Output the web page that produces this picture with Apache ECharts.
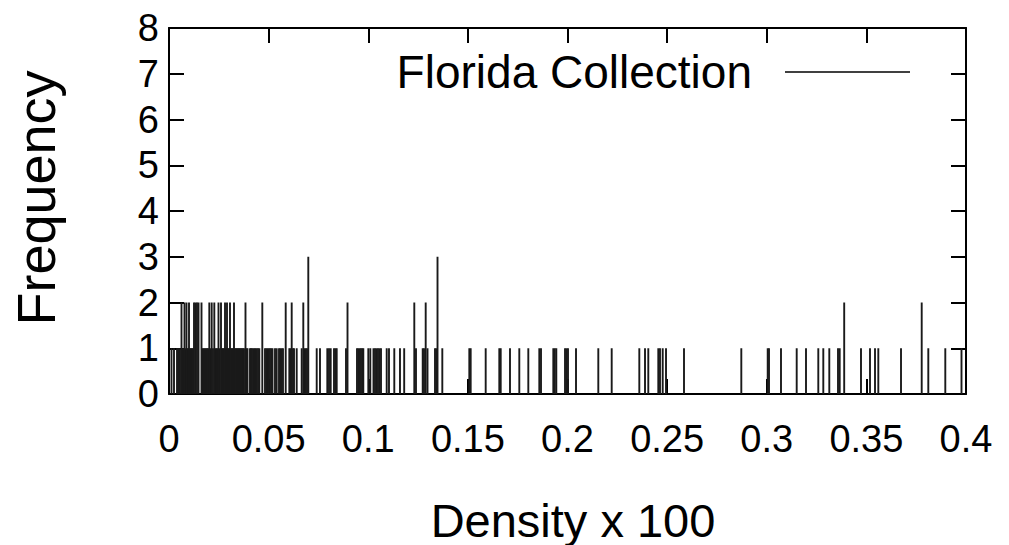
<!DOCTYPE html>
<html>
<head>
<meta charset="utf-8">
<script src="https://cdn.jsdelivr.net/npm/echarts@6/dist/echarts.min.js"></script>
<style>
html,body{margin:0;padding:0;background:#fff;}
#chart{width:1009px;height:545px;}
</style>
</head>
<body>
<div id="chart"></div>
<script>
// ---- data ----
const seriesName = 'Florida Collection';
const xTitle = 'Density x 100';
const yTitle = 'Frequency';
const xTickLabels = ['0', '0.05', '0.1', '0.15', '0.2', '0.25', '0.3', '0.35', '0.4'];
const yTickLabels = ['0', '1', '2', '3', '4', '5', '6', '7', '8'];

// density values that occur once
const freq1Densities = [
  0.00125,0.00251,0.00402,0.00452,0.00502,0.00552,0.00678,0.00728,0.00828,0.00928,0.00964,
  0.01054,0.01104,0.01154,0.01205,0.01681,0.01732,0.01782,0.01832,0.01882,0.01932,0.01972,
  0.02083,0.02208,0.02334,0.02384,0.02434,0.02545,0.0266,0.0271,0.0276,0.02861,0.02961,
  0.03011,0.03112,0.03162,0.03212,0.03312,0.03363,0.03413,0.03463,0.03513,0.03563,0.03614,
  0.03664,0.03714,0.03764,0.0389,0.0394,
  0.04065,0.04115,0.04166,0.04231,0.04291,0.04341,0.04402,0.04467,0.04532,0.04818,0.04883,
  0.04944,0.05004,0.05069,0.05134,0.05194,0.0532,0.05405,0.05521,0.05586,0.05656,0.05721,
  0.06038,0.06098,0.06223,0.06274,0.06409,0.0666,0.068,0.06861,0.06926,0.07413,0.07578,
  0.07945,0.0803,0.08115,0.08281,0.08356,0.08417,0.08883,0.09435,0.095,0.09571,0.09636,
  0.09701,0.09752,0.10003,0.10103,0.10263,0.10339,0.10414,0.10489,0.10565,0.1064,0.10926,
  0.11041,0.11307,0.11593,0.11804,0.12396,0.12733,0.12798,0.12974,0.1335,0.13415,0.13717,
  0.15072,0.15141,0.15894,0.16577,0.16648,0.17114,0.17581,0.18033,0.18585,0.1867,0.19288,
  0.19363,0.19438,0.19875,0.1995,0.20025,0.20427,0.21546,0.22218,0.23604,0.2389,0.24055,
  0.24557,0.24642,0.24778,0.24944,0.25847,0.28723,0.30048,0.30113,0.30715,0.31503,0.3197,
  0.32587,0.32838,0.33139,0.33576,0.33661,0.3473,0.35182,0.35433,0.35599,0.36738,0.38108,
  0.38961,0.39774
];
// density values that occur twice
const freq2Densities = [
  0.00627,0.00778,0.00878,0.01004,0.01255,0.0133,0.01405,0.01481,0.01631,0.02023,0.02143,
  0.02274,0.02484,0.0261,0.02811,0.02911,0.03061,0.03262,0.03839,0.04683,0.05857,0.06158,
  0.0674,0.08959,0.12311,0.12883,0.33887,0.37777
];
// density values that occur three times
const freq3Densities = [0.06991, 0.13476];

// ---- build series data ----
const impulseData = []
  .concat(freq1Densities.map(d => [d, 1]))
  .concat(freq2Densities.map(d => [d, 2]))
  .concat(freq3Densities.map(d => [d, 3]));

const FONT = '"Liberation Sans", Arial, Helvetica, sans-serif';
const chart = echarts.init(document.getElementById('chart'), null, {renderer: 'svg'});

const axisLine = {show: true, onZero: false, lineStyle: {color: '#000', width: 2}};
const axisTick = {show: true, inside: true, length: 15, lineStyle: {color: '#000', width: 2}};

chart.setOption({
  animation: false,
  backgroundColor: '#fff',
  grid: {left: 169, right: 43, top: 28, bottom: 151, containLabel: false},
  xAxis: [
    {
      type: 'value', min: 0, max: 0.4, interval: 0.05, position: 'bottom',
      axisLine: axisLine, axisTick: axisTick, splitLine: {show: false},
      axisLabel: {
        show: true, margin: 26, fontSize: 38, color: '#000', fontFamily: FONT,
        formatter: (v) => xTickLabels[Math.round(v / 0.05)]
      }
    },
    {
      type: 'value', min: 0, max: 0.4, interval: 0.05, position: 'top',
      axisLine: axisLine, axisTick: axisTick, splitLine: {show: false},
      axisLabel: {show: false}
    }
  ],
  yAxis: [
    {
      type: 'value', min: 0, max: 8, interval: 1, position: 'left',
      axisLine: axisLine, axisTick: axisTick, splitLine: {show: false},
      axisLabel: {
        show: true, margin: 10, fontSize: 38, color: '#000', fontFamily: FONT,
        formatter: (v) => yTickLabels[Math.round(v)]
      }
    },
    {
      type: 'value', min: 0, max: 8, interval: 1, position: 'right',
      axisLine: axisLine, axisTick: axisTick, splitLine: {show: false},
      axisLabel: {show: false}
    }
  ],
  series: [{
    name: seriesName,
    type: 'custom',
    xAxisIndex: 0, yAxisIndex: 0,
    data: impulseData,
    renderItem: function (params, api) {
      const p0 = api.coord([api.value(0), 0]);
      const p1 = api.coord([api.value(0), api.value(1)]);
      return {
        type: 'line',
        shape: {x1: p0[0], y1: p0[1], x2: p1[0], y2: p1[1]},
        style: {stroke: '#1a1a1a', lineWidth: 1.9}
      };
    }
  }],
  graphic: [
    {
      type: 'text', x: 752, y: 72,
      style: {text: seriesName, font: '46px ' + FONT, fill: '#000', textAlign: 'right', textVerticalAlign: 'middle'}
    },
    {
      type: 'line', shape: {x1: 785, y1: 72, x2: 910, y2: 72},
      style: {stroke: '#000', lineWidth: 1.5}
    },
    {
      type: 'text', x: 573, y: 520,
      style: {text: xTitle, font: '47px ' + FONT, fill: '#000', textAlign: 'center', textVerticalAlign: 'middle'}
    },
    {
      type: 'text', x: 36, y: 198, rotation: Math.PI / 2,
      style: {text: yTitle, font: '54px ' + FONT, fill: '#000', textAlign: 'center', textVerticalAlign: 'middle'}
    }
  ]
});
</script>
</body>
</html>
